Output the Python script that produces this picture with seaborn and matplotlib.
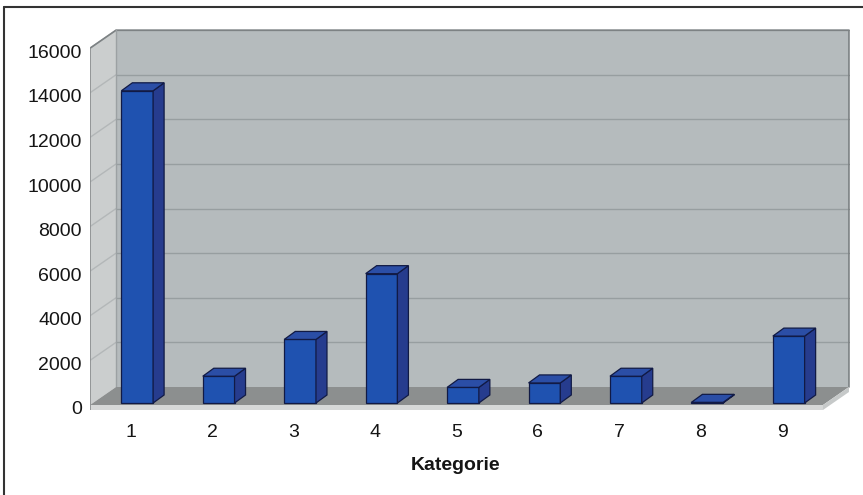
import matplotlib
matplotlib.use("Agg")
import matplotlib.pyplot as plt
from matplotlib.patches import Polygon
from matplotlib.lines import Line2D
from matplotlib.transforms import ScaledTranslation
import seaborn as sns
import pandas as pd

# Data
categories = ["1", "2", "3", "4", "5", "6", "7", "8", "9"]
values = [14000, 1200, 2850, 5800, 700, 900, 1200, 30, 3000]
y_ticks = [0, 2000, 4000, 6000, 8000, 10000, 12000, 14000, 16000]
x_title = "Kategorie"

sns.set_style("white")
plt.rcParams["font.family"] = ["Liberation Sans", "DejaVu Sans"]

W, H, DPI = 863, 495, 100
fig = plt.figure(figsize=(W / DPI, H / DPI), dpi=DPI)
fig.patch.set_facecolor("white")

# axes box in pixels (front plane + depth)
L, R, T, B = 90, 850, 28, 410
ax = fig.add_axes([L / W, 1 - B / H, (R - L) / W, (B - T) / H])

UX = 81.44          # px per category
UY = 0.0223         # px per value unit
ZERO = 405          # pixel row of value 0 on the front plane
x_lo = -0.5
x_hi = x_lo + (R - L) / UX
y_lo = -(B - ZERO) / UY
y_hi = (ZERO - T) / UY

DX = 26 / UX        # wall depth
DY = 18 / UY
n = len(categories)
xf0, xf1 = -0.5, n - 0.5
vmax = y_ticks[-1]

wall_back = "#b5bbbd"
wall_side = "#cbcece"
floor_top = "#8c8f8f"
grid_c = "#979ea0"

# side wall
ax.add_patch(Polygon([(xf0, 0), (xf0, vmax), (xf0 + DX, vmax + DY), (xf0 + DX, DY)],
                     closed=True, facecolor=wall_side, edgecolor="none", zorder=0))
# back wall
ax.add_patch(Polygon([(xf0 + DX, DY), (xf0 + DX, vmax + DY), (xf1 + DX, vmax + DY), (xf1 + DX, DY)],
                     closed=True, facecolor=wall_back, edgecolor="none", zorder=0))
# gridlines on walls
for v in y_ticks[1:]:
    ax.plot([xf0, xf0 + DX], [v, v + DY], color="#b3b7b8", lw=1.0, zorder=1)
    ax.plot([xf0 + DX, xf1 + DX], [v + DY, v + DY], color=grid_c, lw=1.0, zorder=1)
# wall outlines
ax.plot([xf0, xf0 + DX, xf1 + DX, xf1 + DX], [vmax, vmax + DY, vmax + DY, DY],
        color="#7d8284", lw=1.2, zorder=1)
ax.plot([xf0 + DX, xf0 + DX], [DY, vmax + DY], color="#9ca1a3", lw=1.0, zorder=1)
ax.plot([xf0, xf0], [y_lo, vmax], color="#8a8d8e", lw=1.2, zorder=2)

# floor slab
th = (B - ZERO) / UY
ax.add_patch(Polygon([(xf0, 0), (xf1, 0), (xf1 + DX, DY), (xf0 + DX, DY)],
                     closed=True, facecolor=floor_top, edgecolor="none", zorder=1))
ax.add_patch(Polygon([(xf0, -th), (xf1, -th), (xf1, 0), (xf0, 0)],
                     closed=True, facecolor="#d6d8d8", edgecolor="none", zorder=1))
ax.add_patch(Polygon([(xf1, -th), (xf1 + DX, DY - th), (xf1 + DX, DY), (xf1, 0)],
                     closed=True, facecolor="#c6c9c9", edgecolor="none", zorder=1))

# bars (front faces) through seaborn
df = pd.DataFrame({"cat": categories, "val": values})
sns.barplot(data=df, x="cat", y="val", width=0.39, color="#1f52b0",
            saturation=1, ax=ax, zorder=3)

ox = 6.5 / UX
oy = 2 / UY
bdx = 11 / UX
bdy = 8 / UY
edge = "#111a45"
for p in [p for p in ax.patches if p.get_zorder() == 3]:
    p.set_x(p.get_x() + ox)
    p.set_y(p.get_y() + oy)
    p.set_facecolor("#1f52b0")
    p.set_edgecolor(edge)
    p.set_linewidth(0.9)
    x0, y0, w, h = p.get_x(), p.get_y(), p.get_width(), p.get_height()
    top = Polygon([(x0, y0 + h), (x0 + w, y0 + h), (x0 + w + bdx, y0 + h + bdy), (x0 + bdx, y0 + h + bdy)],
                  closed=True, facecolor="#2b4ea6", edgecolor=edge, lw=0.9, zorder=3)
    side = Polygon([(x0 + w, y0), (x0 + w + bdx, y0 + bdy), (x0 + w + bdx, y0 + h + bdy), (x0 + w, y0 + h)],
                   closed=True, facecolor="#263c8e", edgecolor=edge, lw=0.9, zorder=3)
    ax.add_patch(side)
    ax.add_patch(top)

ax.set_xlim(x_lo, x_hi)
ax.set_ylim(y_lo, y_hi)
for s in ax.spines.values():
    s.set_visible(False)

txt = "#151515"
ax.set_yticks(y_ticks)
ax.set_yticklabels([str(v) for v in y_ticks], fontsize=14, color=txt)
ax.tick_params(axis="y", length=4, width=0.8, color="#8a8d8e", pad=2)
for lbl in ax.get_yticklabels():
    lbl.set_transform(lbl.get_transform() + ScaledTranslation(0, -3 / DPI, fig.dpi_scale_trans))

ax.set_xticks(range(n))
ax.set_xticklabels(categories, fontsize=14, color=txt)
ax.tick_params(axis="x", length=0, pad=10)

ax.set_ylabel("")
ax.set_xlabel(x_title, fontsize=14, fontweight="bold", color=txt)
ax.xaxis.label.set_va("center")
ax.xaxis.set_label_coords((456 - L) / (R - L), (B - 465) / (B - T))

# outer frame (top and left edges)
fig.add_artist(Line2D([4 / W, 1], [1 - 7 / H, 1 - 7 / H], color="#333333", lw=1.5))
fig.add_artist(Line2D([4 / W, 4 / W], [0, 1 - 7 / H], color="#333333", lw=1.5))

fig.savefig("out.png", dpi=DPI, facecolor="white")
